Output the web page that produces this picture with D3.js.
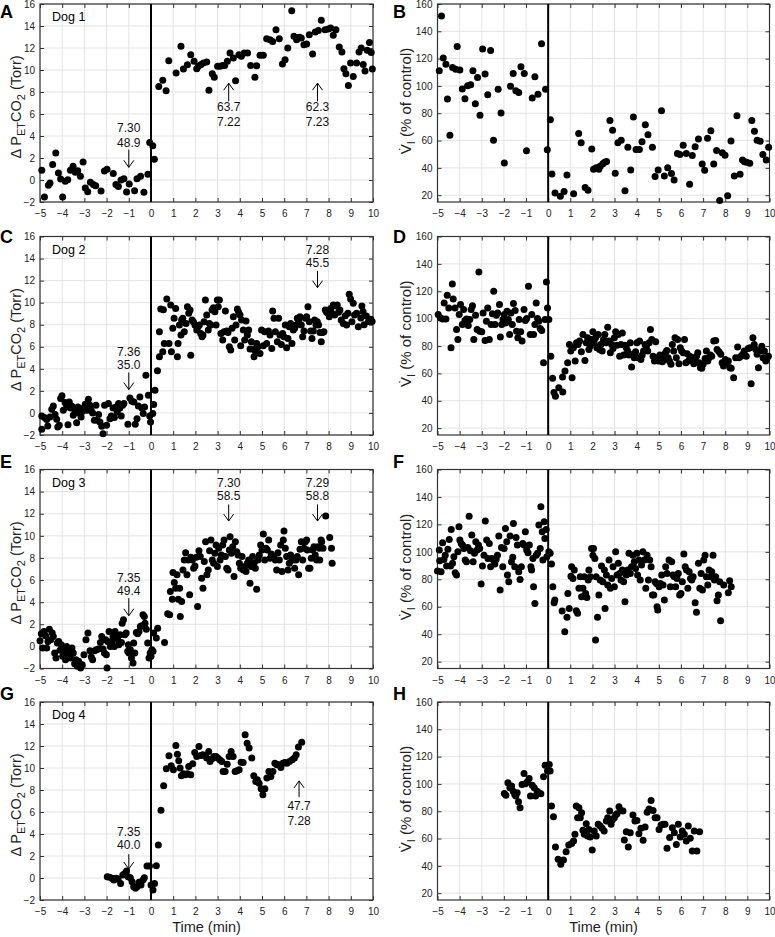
<!DOCTYPE html>
<html><head><meta charset="utf-8">
<script src="https://cdn.jsdelivr.net/npm/d3@7"></script>
<style>
body{margin:0;background:#fff;}
svg{display:block;font-family:"Liberation Sans",Arial,sans-serif;}
</style></head><body>
<svg id="c" width="775" height="937"></svg>
<script>
// ---------- DATA ----------
const xTicks = [-5,-4,-3,-2,-1,0,1,2,3,4,5,6,7,8,9,10];
const petTicks = [-2,0,2,4,6,8,10,12,14,16];
const viTicks = [20,40,60,80,100,120,140,160];

const dog1Pet = [[-4.92,0.88],[-4.8,-1.55],[-4.62,-0.48],[-4.55,-0.27],[-4.43,1.42],[-4.29,2.45],[-4.17,0.64],[-4.07,0.09],[-3.98,-1.55],[-3.86,-0.12],[-3.75,0.03],[-3.63,0.88],[-3.51,1.24],[-3.41,0.7],[-3.3,0.85],[-3.18,0.33],[-3.06,1.64],[-2.96,-0.73],[-2.85,-1.06],[-2.73,-0.21],[-2.6,-0.42],[-2.49,-0.52],[-2.25,-1.0],[-2.1,0.82],[-1.98,0.97],[-1.7,0.6],[-1.58,-0.42],[-1.47,-0.58],[-1.35,0],[-1.22,0.12],[-1.1,-1.1],[-0.98,-0.36],[-0.74,-0.97],[-0.63,0.12],[-0.47,0.33],[-0.32,-1.12],[-0.14,0.52],[-0.06,3.42],[0.08,3.12],[0.15,1.88],[0.35,8.5],[0.53,9.06],[0.68,8.12],[0.8,10.85],[1.13,9.73],[1.35,12.15],[1.46,10.09],[1.64,10.48],[1.79,11.39],[1.94,10.79],[2.06,10.12],[2.13,10.33],[2.24,10.48],[2.36,10.64],[2.51,10.73],[2.61,8.15],[2.76,9.67],[2.85,9.33],[3.0,10.33],[3.11,10.33],[3.23,10.42],[3.32,10.42],[3.44,10.79],[3.56,11.55],[3.71,11.09],[3.81,9.03],[3.96,11.39],[4.07,11.24],[4.2,11.55],[4.35,11.55],[4.49,10.42],[4.68,9.33],[4.76,10.39],[4.91,11.33],[5.06,11.33],[5.21,12.85],[5.36,12.76],[5.48,12.6],[5.63,13.67],[5.78,12.85],[5.92,10.55],[6.04,10.94],[6.16,12.0],[6.34,15.39],[6.44,13.06],[6.56,12.76],[6.68,12.97],[6.77,12.9],[6.89,12.3],[7.01,12.36],[7.13,13.21],[7.28,11.45],[7.4,13.45],[7.54,13.58],[7.67,14.52],[7.84,13.67],[7.99,13.73],[8.09,13.82],[8.21,13.15],[8.33,13.67],[8.48,12.09],[8.6,11.64],[8.69,10.12],[8.78,9.67],[8.89,8.6],[8.99,10.64],[9.11,9.42],[9.26,10.64],[9.37,11.64],[9.47,12.0],[9.56,10.5],[9.64,9.9],[9.74,11.8],[9.84,12.5],[9.92,11.6],[9.97,10.1]];

const dog1Vi = [[-4.92,111.1],[-4.82,151.3],[-4.74,120.5],[-4.62,115.9],[-4.55,90.5],[-4.44,63.9],[-4.32,113.5],[-4.18,112.3],[-4.11,128.8],[-3.99,111.6],[-3.88,97.8],[-3.76,90.7],[-3.64,100.2],[-3.5,100.9],[-3.4,111.1],[-3.29,86.9],[-3.19,106.2],[-3.08,78.6],[-2.96,127.1],[-2.85,108.7],[-2.73,93.6],[-2.6,125.9],[-2.47,60.2],[-2.26,97.5],[-2.13,80.1],[-1.98,43.5],[-1.7,99.7],[-1.58,109.1],[-1.46,96.5],[-1.33,95.1],[-1.23,114.0],[-1.08,109.1],[-0.98,52.5],[-0.72,91.2],[-0.6,106.7],[-0.46,93.9],[-0.3,130.9],[-0.12,97.5],[-0.04,53.2],[0.1,75.2],[0.17,35.5],[0.31,21.5],[0.55,19.3],[0.72,22.7],[0.85,34.8],[1.15,21.0],[1.38,65.1],[1.49,58.3],[1.67,25.6],[1.8,23.6],[1.97,53.9],[2.05,38.9],[2.17,40.1],[2.29,38.9],[2.36,41.3],[2.47,43.0],[2.55,44.2],[2.64,44.7],[2.79,74.7],[2.91,67.5],[3.03,36.0],[3.15,58.3],[3.3,60.2],[3.47,23.2],[3.6,55.1],[3.73,38.4],[3.85,77.2],[3.97,53.4],[4.12,53.4],[4.24,59.2],[4.39,71.6],[4.51,64.3],[4.71,55.1],[4.83,33.6],[4.97,38.4],[5.12,81.8],[5.25,34.1],[5.4,40.1],[5.57,35.8],[5.69,31.2],[5.84,50.5],[5.95,49.8],[6.1,56.6],[6.24,50.5],[6.39,28.0],[6.51,49.0],[6.64,55.4],[6.79,61.2],[6.96,42.8],[7.07,38.2],[7.2,61.7],[7.35,67.2],[7.48,42.8],[7.61,52.7],[7.75,16.1],[7.87,51.0],[7.99,49.3],[8.11,19.5],[8.26,59.7],[8.41,34.1],[8.53,78.2],[8.67,35.3],[8.78,45.7],[8.87,44.5],[8.97,44.2],[9.11,43.3],[9.2,74.7],[9.32,66.8],[9.44,60.2],[9.58,59.5],[9.7,49.8],[9.85,45.7],[9.96,55.1]];

const dog2Pet = [[-4.92,-1.48],[-4.92,-0.27],[-4.8,-0.42],[-4.7,-0.6],[-4.65,-1.18],[-4.55,-0.36],[-4.47,0.33],[-4.4,0.64],[-4.32,-0.15],[-4.25,-0.58],[-4.2,-1.27],[-4.13,-1.12],[-4.07,1.3],[-4.01,1.55],[-3.95,0.24],[-3.87,0.94],[-3.8,0.55],[-3.74,-1.06],[-3.68,1.0],[-3.62,0.45],[-3.56,0.61],[-3.5,-0.21],[-3.42,0.09],[-3.35,-0.88],[-3.29,0.55],[-3.23,0.0],[-3.15,-0.36],[-3.08,0.15],[-3.02,0.48],[-2.96,0.79],[-2.88,0.24],[-2.82,1.24],[-2.75,0.7],[-2.69,0.21],[-2.63,0.0],[-2.55,-0.67],[-2.48,0.7],[-2.42,-0.67],[-2.36,-0.15],[-2.3,-0.82],[-2.22,-1.21],[-2.16,-1.88],[-2.09,0.7],[-2.0,-1.12],[-1.92,0.85],[-1.85,-0.52],[-1.79,-0.27],[-1.71,0.45],[-1.65,-0.42],[-1.58,0.55],[-1.52,0.09],[-1.46,0.85],[-1.4,0.45],[-1.34,-0.27],[-1.28,0.7],[-1.22,0.85],[-1.04,-1.03],[-0.95,1.36],[-0.86,1.06],[-0.77,1.0],[-0.71,-1.03],[-0.63,-0.52],[-0.57,0.64],[-0.5,1.45],[-0.41,0.45],[-0.35,-0.06],[-0.29,0.55],[-0.23,3.42],[-0.12,1.61],[-0.06,-0.27],[-0.02,-0.82],[0.08,-0.06],[0.12,0.76],[0.18,2.06],[0.29,3.82],[0.38,5.09],[0.38,7.36],[0.44,9.42],[0.53,5.55],[0.56,9.36],[0.6,6.3],[0.71,10.33],[0.81,6.3],[0.89,9.79],[0.92,5.55],[0.98,7.67],[1.04,8.58],[1.11,9.48],[1.19,5.09],[1.22,6.3],[1.28,7.97],[1.35,7.06],[1.38,8.42],[1.43,8.58],[1.5,7.36],[1.58,8.12],[1.64,9.64],[1.7,9.03],[1.76,9.33],[1.79,5.24],[1.85,8.42],[1.91,8.27],[1.98,7.97],[2.06,7.52],[2.12,7.82],[2.18,7.97],[2.24,7.21],[2.3,6.91],[2.34,7.06],[2.39,8.27],[2.45,10.24],[2.51,8.88],[2.58,7.52],[2.63,8.12],[2.69,7.97],[2.75,9.33],[2.81,9.55],[2.88,9.18],[2.93,7.97],[2.99,10.24],[3.03,9.64],[3.08,10.24],[3.15,7.21],[3.23,6.61],[3.29,7.36],[3.35,9.24],[3.41,7.42],[3.47,7.3],[3.53,6.0],[3.59,5.7],[3.65,7.67],[3.71,8.73],[3.77,6.61],[3.83,7.97],[3.89,9.42],[3.95,9.12],[4.01,8.88],[4.04,6.09],[4.08,8.42],[4.16,7.52],[4.22,6.61],[4.28,8.33],[4.34,7.06],[4.4,7.52],[4.46,5.79],[4.52,6.45],[4.58,5.79],[4.64,5.09],[4.7,5.61],[4.76,6.3],[4.82,6.0],[4.91,5.39],[4.98,7.52],[5.06,6.09],[5.12,7.36],[5.21,6.3],[5.29,7.42],[5.36,7.06],[5.44,5.85],[5.48,9.24],[5.54,8.58],[5.6,7.36],[5.69,6.45],[5.75,8.58],[5.81,7.06],[5.87,6.21],[5.93,7.21],[5.99,6.91],[6.05,7.97],[6.11,5.91],[6.17,6.76],[6.23,7.82],[6.29,8.12],[6.35,6.3],[6.41,7.52],[6.47,7.67],[6.53,7.97],[6.59,8.58],[6.65,8.42],[6.71,8.73],[6.77,7.97],[6.83,6.91],[6.89,7.42],[6.95,8.58],[7.01,8.73],[7.07,9.64],[7.13,8.27],[7.19,7.42],[7.25,6.76],[7.31,7.42],[7.37,8.42],[7.43,7.97],[7.49,8.27],[7.55,7.97],[7.61,7.3],[7.67,6.45],[7.73,7.3],[7.79,7.36],[7.85,9.33],[7.91,9.12],[7.97,9.03],[8.03,8.73],[8.09,9.48],[8.15,9.03],[8.21,9.79],[8.27,8.88],[8.33,9.7],[8.39,9.79],[8.45,9.12],[8.51,9.33],[8.57,8.42],[8.66,8.12],[8.75,8.82],[8.81,7.97],[8.87,9.03],[8.93,10.76],[8.99,10.33],[9.05,8.27],[9.11,9.94],[9.17,8.88],[9.26,9.03],[9.34,7.82],[9.45,8.6],[9.5,9.7],[9.55,9.2],[9.6,8.0],[9.7,8.8],[9.8,8.3],[9.9,8.5],[9.96,8.3]];

const dog2Vi = [[-4.97,103.0],[-4.86,100.5],[-4.77,99.8],[-4.7,111.5],[-4.62,99.8],[-4.56,117.0],[-4.49,107.8],[-4.39,78.7],[-4.33,125.3],[-4.29,114.4],[-4.21,107.8],[-4.14,92.1],[-4.08,84.8],[-4.02,103.0],[-3.96,110.3],[-3.88,95.7],[-3.82,106.6],[-3.76,98.6],[-3.69,99.8],[-3.61,95.0],[-3.54,99.3],[-3.48,106.6],[-3.42,109.5],[-3.36,84.8],[-3.28,102.5],[-3.21,92.1],[-3.13,134.0],[-3.09,90.8],[-3.0,90.4],[-2.94,104.2],[-2.85,84.0],[-2.79,98.1],[-2.73,107.8],[-2.66,84.8],[-2.58,95.7],[-2.52,103.5],[-2.46,120.0],[-2.4,95.7],[-2.34,102.5],[-2.28,104.2],[-2.2,110.3],[-2.16,86.5],[-2.1,95.7],[-2.04,99.3],[-1.98,103.0],[-1.92,96.9],[-1.86,105.4],[-1.8,99.3],[-1.74,88.4],[-1.68,104.2],[-1.62,95.7],[-1.57,111.0],[-1.49,105.9],[-1.43,90.8],[-1.37,86.0],[-1.31,99.3],[-1.24,90.4],[-1.18,83.6],[-1.09,106.6],[-1.03,98.6],[-0.97,100.1],[-0.89,123.6],[-0.81,88.4],[-0.74,103.0],[-0.66,88.4],[-0.6,95.7],[-0.54,111.5],[-0.48,100.1],[-0.42,98.1],[-0.36,92.8],[-0.29,91.3],[-0.21,67.8],[-0.14,99.3],[-0.08,126.8],[-0.03,107.8],[0.03,99.3],[0.12,72.6],[0.2,56.4],[0.26,46.0],[0.33,43.3],[0.48,49.6],[0.66,46.4],[0.65,57.4],[0.76,61.7],[0.88,67.8],[0.96,81.1],[1.02,76.3],[1.08,56.9],[1.14,78.7],[1.22,69.0],[1.28,82.3],[1.35,81.1],[1.42,83.6],[1.5,75.8],[1.57,88.4],[1.66,69.5],[1.72,82.3],[1.78,86.0],[1.84,77.5],[1.9,80.1],[1.96,84.8],[2.02,90.4],[2.08,82.3],[2.14,86.0],[2.2,78.7],[2.26,88.4],[2.32,77.5],[2.38,81.1],[2.44,76.3],[2.5,84.8],[2.56,88.4],[2.62,82.3],[2.69,93.8],[2.75,83.6],[2.81,75.1],[2.87,81.1],[2.93,78.2],[2.99,86.0],[3.05,90.4],[3.11,80.6],[3.17,88.4],[3.23,72.6],[3.29,81.1],[3.35,89.6],[3.41,73.4],[3.47,80.6],[3.53,78.7],[3.59,76.3],[3.65,73.4],[3.71,82.3],[3.77,64.6],[3.83,73.9],[3.89,71.4],[3.95,75.8],[4.01,82.3],[4.07,71.4],[4.13,83.6],[4.19,70.2],[4.25,73.4],[4.31,76.3],[4.38,81.1],[4.44,79.9],[4.5,76.3],[4.56,82.3],[4.62,92.1],[4.68,84.8],[4.74,72.6],[4.8,69.0],[4.86,83.1],[4.92,71.4],[4.98,69.0],[5.05,73.4],[5.1,71.4],[5.16,68.5],[5.22,70.2],[5.3,75.1],[5.36,76.8],[5.42,71.4],[5.48,69.0],[5.55,66.6],[5.61,81.1],[5.67,76.3],[5.73,86.0],[5.79,71.4],[5.85,84.8],[5.91,67.1],[5.97,78.7],[6.03,76.3],[6.1,75.1],[6.16,84.8],[6.22,67.8],[6.28,74.3],[6.34,69.0],[6.4,72.6],[6.46,70.2],[6.52,71.4],[6.58,67.1],[6.64,70.2],[6.7,72.6],[6.76,75.1],[6.82,67.8],[6.88,64.2],[6.94,63.7],[7.0,66.6],[7.09,70.9],[7.15,76.3],[7.21,69.0],[7.27,71.4],[7.33,73.4],[7.39,72.6],[7.48,83.6],[7.57,84.1],[7.63,77.5],[7.72,75.8],[7.8,73.9],[7.86,67.8],[7.92,65.4],[8.0,70.2],[8.07,67.8],[8.14,69.0],[8.21,64.2],[8.27,63.7],[8.38,56.9],[8.47,71.4],[8.56,79.2],[8.62,71.4],[8.71,72.6],[8.79,73.9],[8.86,76.3],[8.95,72.6],[9.04,78.2],[9.12,78.7],[9.17,52.5],[9.25,86.0],[9.31,81.1],[9.38,77.5],[9.44,73.9],[9.5,64.2],[9.56,76.3],[9.65,79.9],[9.71,71.4],[9.77,76.3],[9.83,69.0],[9.89,71.4],[9.95,72.6]];

const dog3Pet = [[-5.0,0.51],[-4.94,1.14],[-4.88,-0.15],[-4.82,1.35],[-4.75,0.96],[-4.7,-0.15],[-4.64,0.45],[-4.58,1.56],[-4.52,0.6],[-4.45,1.2],[-4.4,0.9],[-4.34,-0.6],[-4.28,-1.05],[-4.22,0.3],[-4.16,0.45],[-4.1,-0.36],[-4.04,0.15],[-3.98,-0.9],[-3.92,-0.45],[-3.85,-1.2],[-3.8,0.0],[-3.74,-0.75],[-3.68,-0.3],[-3.62,-1.05],[-3.56,-0.15],[-3.5,-0.6],[-3.44,-1.56],[-3.38,-1.2],[-3.32,-1.8],[-3.26,-1.35],[-3.17,-1.95],[-3.1,-1.65],[-3.02,-0.75],[-2.93,0.6],[-2.84,1.2],[-2.75,-0.39],[-2.69,-0.96],[-2.63,-1.2],[-2.54,-0.39],[-2.46,-0.3],[-2.37,-0.24],[-2.28,0.36],[-2.22,0.9],[-2.16,-0.24],[-2.1,-0.6],[-2.04,0.6],[-2.01,-0.75],[-1.98,-1.95],[-1.95,0.45],[-1.89,1.35],[-1.83,0.0],[-1.77,0.45],[-1.71,0.9],[-1.65,0.0],[-1.62,1.35],[-1.57,0.84],[-1.5,0.6],[-1.45,0.15],[-1.39,1.05],[-1.33,0.36],[-1.3,2.1],[-1.24,2.4],[-1.18,1.05],[-1.12,1.2],[-1.05,-0.45],[-1.02,0.15],[-0.99,-0.6],[-0.93,-0.3],[-0.88,-1.05],[-0.81,-1.5],[-0.78,0.3],[-0.73,-0.6],[-0.66,1.26],[-0.6,1.14],[-0.54,1.35],[-0.48,1.8],[-0.42,1.86],[-0.36,2.86],[-0.3,2.7],[-0.27,2.1],[-0.21,1.56],[-0.15,0.3],[-0.09,-1.05],[-0.04,-0.6],[0.0,-0.9],[0.04,-0.3],[0.09,-0.45],[0.12,1.2],[0.24,0.75],[0.3,1.65],[0.61,0.36],[0.75,2.95],[0.84,2.86],[0.87,4.96],[0.96,4.27],[0.99,6.68],[1.05,5.77],[1.11,5.26],[1.17,6.47],[1.23,4.27],[1.29,5.26],[1.32,2.71],[1.38,4.06],[1.44,6.92],[1.5,7.82],[1.56,8.48],[1.62,6.47],[1.68,7.82],[1.74,4.66],[1.8,8.06],[1.86,7.82],[1.92,7.07],[1.98,7.28],[2.04,8.06],[2.1,3.61],[2.16,8.66],[2.22,8.12],[2.28,6.17],[2.34,5.26],[2.4,7.67],[2.46,9.47],[2.52,6.47],[2.58,6.92],[2.64,8.66],[2.7,9.62],[2.76,7.82],[2.82,7.52],[2.88,8.42],[2.93,9.17],[2.99,7.22],[3.05,8.87],[3.11,7.82],[3.17,8.27],[3.23,9.17],[3.29,9.62],[3.35,8.12],[3.41,7.07],[3.47,6.92],[3.53,8.72],[3.56,9.92],[3.62,8.42],[3.68,9.02],[3.74,6.32],[3.8,9.47],[3.86,8.57],[3.92,8.27],[3.98,7.52],[4.04,7.07],[4.1,8.12],[4.16,6.92],[4.22,7.22],[4.28,6.77],[4.34,7.52],[4.4,7.82],[4.46,5.71],[4.52,7.22],[4.58,8.12],[4.64,7.52],[4.7,7.07],[4.76,5.17],[4.82,7.82],[4.88,8.27],[4.94,9.17],[5.0,8.72],[5.06,10.17],[5.12,7.82],[5.18,8.87],[5.24,8.72],[5.3,9.62],[5.36,7.97],[5.42,8.36],[5.48,8.12],[5.54,8.12],[5.6,7.82],[5.66,6.92],[5.72,8.48],[5.78,7.82],[5.84,9.17],[5.9,6.77],[5.96,9.62],[5.99,10.44],[6.05,8.87],[6.11,8.12],[6.17,6.92],[6.23,7.52],[6.29,8.27],[6.35,7.97],[6.41,7.82],[6.47,7.07],[6.53,7.82],[6.59,8.12],[6.65,6.47],[6.71,8.78],[6.77,9.47],[6.83,7.82],[6.89,8.87],[6.95,9.47],[7.01,9.62],[7.04,8.72],[7.1,7.07],[7.16,7.07],[7.22,7.97],[7.28,8.72],[7.34,9.02],[7.4,8.27],[7.46,7.82],[7.52,9.02],[7.58,8.87],[7.6,7.82],[7.66,9.62],[7.69,9.47],[7.75,8.87],[7.87,11.79],[8.05,9.86],[8.13,8.87],[8.16,7.52]];

const dog3Vi = [[-5.0,86.0],[-4.92,101.3],[-4.9,93.5],[-4.84,85.5],[-4.77,106.6],[-4.71,94.5],[-4.65,97.6],[-4.59,89.6],[-4.53,101.8],[-4.47,109.0],[-4.41,89.6],[-4.38,116.3],[-4.32,91.6],[-4.26,96.4],[-4.2,84.8],[-4.14,83.1],[-4.08,100.1],[-4.03,118.3],[-3.99,108.6],[-3.93,106.1],[-3.87,104.9],[-3.81,102.5],[-3.75,94.0],[-3.69,92.8],[-3.63,103.2],[-3.57,126.0],[-3.51,100.8],[-3.45,112.2],[-3.39,92.8],[-3.33,98.9],[-3.27,107.3],[-3.21,101.3],[-3.15,104.9],[-3.09,102.5],[-3.03,76.5],[-2.97,89.6],[-2.9,97.6],[-2.84,122.4],[-2.78,108.6],[-2.72,95.2],[-2.66,106.1],[-2.6,89.1],[-2.54,95.2],[-2.47,94.0],[-2.41,91.1],[-2.35,94.5],[-2.29,97.6],[-2.23,111.5],[-2.17,72.2],[-2.11,103.2],[-2.05,89.1],[-1.99,102.5],[-1.93,117.1],[-1.87,107.3],[-1.84,83.1],[-1.78,78.2],[-1.72,111.5],[-1.66,92.8],[-1.6,96.0],[-1.57,120.7],[-1.51,89.1],[-1.45,110.5],[-1.39,104.9],[-1.33,85.5],[-1.27,79.9],[-1.21,89.1],[-1.15,106.1],[-1.09,104.9],[-1.03,114.6],[-0.97,101.3],[-0.91,99.3],[-0.85,104.9],[-0.78,89.1],[-0.75,86.7],[-0.69,95.2],[-0.66,74.6],[-0.6,62.4],[-0.54,97.6],[-0.48,98.9],[-0.42,119.5],[-0.36,102.5],[-0.33,132.8],[-0.27,114.6],[-0.24,94.0],[-0.18,121.9],[-0.15,109.8],[-0.09,116.3],[-0.06,96.4],[0.03,100.1],[0.09,98.9],[0.15,91.1],[0.21,74.6],[0.27,62.9],[0.3,64.9],[0.63,56.9],[0.75,41.8],[0.85,52.3],[0.89,69.7],[0.95,58.8],[1.03,82.3],[1.06,89.1],[1.12,80.6],[1.18,86.7],[1.27,57.1],[1.33,55.2],[1.39,73.4],[1.45,81.9],[1.51,67.3],[1.57,73.4],[1.63,81.9],[1.69,69.7],[1.75,66.8],[1.81,79.4],[1.84,86.7],[1.9,81.9],[1.96,102.5],[2.02,97.6],[2.05,102.5],[2.11,95.2],[2.14,35.8],[2.17,81.9],[2.23,52.3],[2.29,68.5],[2.35,79.4],[2.41,89.6],[2.47,78.2],[2.54,86.7],[2.57,58.8],[2.63,83.1],[2.69,75.8],[2.75,94.0],[2.81,73.4],[2.87,80.6],[2.93,89.1],[2.99,74.6],[3.05,100.1],[3.11,83.1],[3.17,91.6],[3.23,84.3],[3.29,79.4],[3.35,86.7],[3.41,78.2],[3.47,63.7],[3.53,83.1],[3.59,86.7],[3.65,98.9],[3.71,84.3],[3.77,89.1],[3.83,97.6],[3.89,92.8],[3.95,87.9],[4.01,98.9],[4.04,83.1],[4.1,94.0],[4.16,79.4],[4.22,90.4],[4.28,100.1],[4.34,94.0],[4.41,73.4],[4.47,97.6],[4.53,79.4],[4.59,94.0],[4.65,89.1],[4.71,68.5],[4.77,68.5],[4.83,78.2],[4.89,77.0],[4.92,60.0],[4.95,57.6],[5.01,74.6],[5.07,77.0],[5.13,83.1],[5.19,75.8],[5.25,64.9],[5.31,89.1],[5.37,84.3],[5.46,94.0],[5.52,74.6],[5.58,92.8],[5.64,83.1],[5.7,81.9],[5.76,74.6],[5.82,80.6],[5.88,84.3],[5.94,68.5],[6.0,69.7],[6.06,78.2],[6.13,98.4],[6.19,89.1],[6.25,86.7],[6.31,73.4],[6.37,85.5],[6.43,80.6],[6.49,79.4],[6.55,81.9],[6.64,62.9],[6.7,55.9],[6.79,91.6],[6.85,73.4],[6.91,84.3],[6.97,72.2],[7.03,94.0],[7.09,97.6],[7.15,81.9],[7.21,75.8],[7.27,86.7],[7.33,81.9],[7.39,85.5],[7.45,97.6],[7.51,79.4],[7.57,81.9],[7.63,64.4],[7.69,68.5],[7.75,78.2],[7.79,49.8],[7.93,75.8],[8.14,70.2],[8.2,79.0],[8.27,74.6]];

const dog4Pet = [[-1.97,0.12],[-1.87,0.06],[-1.76,-0.03],[-1.67,-0.18],[-1.57,-0.03],[-1.48,-0.09],[-1.37,-0.49],[-1.27,0.27],[-1.18,0.42],[-1.1,0.64],[-1.03,0.12],[-0.93,0.03],[-0.85,-0.33],[-0.78,-0.79],[-0.7,-0.94],[-0.63,-0.79],[-0.54,-0.39],[-0.45,-0.64],[-0.36,-0.18],[-0.3,0.03],[-0.18,1.09],[-0.07,1.09],[0.0,-0.64],[0.09,-1.09],[0.16,-0.49],[0.24,1.12],[0.33,3.0],[0.45,6.16],[0.57,8.38],[0.69,9.93],[0.81,11.11],[0.91,10.2],[1.01,9.84],[1.12,12.05],[1.19,11.26],[1.25,10.66],[1.31,9.99],[1.37,9.29],[1.46,9.47],[1.55,9.38],[1.64,9.47],[1.7,10.14],[1.79,9.38],[1.88,10.38],[1.97,11.41],[2.06,11.05],[2.16,11.96],[2.24,11.14],[2.33,11.2],[2.42,11.14],[2.51,10.9],[2.6,11.51],[2.66,10.6],[2.75,10.84],[2.84,11.05],[2.93,11.05],[3.01,10.9],[3.1,10.75],[3.19,10.6],[3.25,9.68],[3.34,9.68],[3.43,10.35],[3.52,11.05],[3.61,11.51],[3.7,11.05],[3.79,9.68],[3.88,9.75],[3.97,9.84],[4.06,10.53],[4.15,10.5],[4.24,13.02],[4.33,12.26],[4.42,11.81],[4.54,10.9],[4.63,9.29],[4.72,8.77],[4.79,8.93],[4.87,8.62],[4.96,8.11],[5.04,7.56],[5.13,8.11],[5.22,9.08],[5.31,9.68],[5.4,9.23],[5.49,9.68],[5.58,10.44],[5.67,10.29],[5.76,10.29],[5.85,10.05],[5.94,10.44],[6.03,10.5],[6.12,10.44],[6.24,10.6],[6.36,10.75],[6.46,10.9],[6.54,11.2],[6.64,11.9],[6.79,12.33]];

const dog4Vi = [[-1.98,93.0],[-1.91,91.8],[-1.82,100.8],[-1.73,97.2],[-1.65,98.4],[-1.58,94.7],[-1.51,92.3],[-1.46,91.1],[-1.4,93.5],[-1.34,87.0],[-1.27,82.6],[-1.18,99.6],[-1.09,107.6],[-1.03,100.1],[-0.94,101.6],[-0.86,104.0],[-0.8,91.1],[-0.72,99.1],[-0.63,97.2],[-0.57,91.1],[-0.5,94.7],[-0.42,93.5],[-0.33,92.8],[-0.21,105.2],[-0.14,113.7],[-0.06,113.7],[-0.03,109.4],[0.05,114.2],[0.09,109.4],[0.15,83.8],[0.24,76.0],[0.33,53.8],[0.45,44.8],[0.57,41.2],[0.69,44.3],[0.81,50.4],[0.93,55.3],[1.06,56.3],[1.15,58.2],[1.21,63.1],[1.27,83.8],[1.33,75.3],[1.39,82.6],[1.45,75.3],[1.51,78.9],[1.57,66.0],[1.63,63.1],[1.72,70.9],[1.78,61.9],[1.84,66.7],[1.9,61.1],[1.99,51.6],[2.08,65.5],[2.17,61.9],[2.26,70.4],[2.35,69.2],[2.44,67.5],[2.53,65.5],[2.63,72.8],[2.69,75.3],[2.78,80.1],[2.84,70.4],[2.9,73.6],[2.99,75.3],[3.05,77.2],[3.11,78.2],[3.2,83.3],[3.29,80.6],[3.38,80.1],[3.44,59.0],[3.53,65.0],[3.62,53.8],[3.71,64.3],[3.83,77.2],[3.92,72.8],[4.01,73.3],[4.1,63.6],[4.19,67.5],[4.29,58.7],[4.38,68.4],[4.47,79.2],[4.56,81.6],[4.65,87.9],[4.74,80.6],[4.83,75.3],[4.92,75.3],[5.01,66.7],[5.1,69.9],[5.19,70.4],[5.28,70.4],[5.37,52.9],[5.49,60.7],[5.61,68.0],[5.7,64.3],[5.79,55.7],[5.88,70.4],[5.97,61.1],[6.06,65.5],[6.15,63.1],[6.24,58.2],[6.33,69.2],[6.42,60.2],[6.51,50.9],[6.6,65.5],[6.72,50.9],[6.84,65.0]];

// annotations: x (min), label lines with their y values, arrow tail -> head (data units)
const annA = [{x:-1, text:["7.30","48.9"], ty:[4.79,3.42], tail:2.76, head:1.15},
              {x:3.5, text:["63.7","7.22"], ty:[6.64,5.33], tail:7.15, head:8.8},
              {x:7.5, text:["62.3","7.23"], ty:[6.64,5.33], tail:7.15, head:8.8}];
const annC = [{x:-1, text:["7.36","35.0"], ty:[5.58,4.39], tail:3.67, head:2.12},
              {x:7.5, text:["7.28","45.5"], ty:[14.85,13.67], tail:12.88, head:11.36}];
const annE = [{x:-1, text:["7.35","49.4"], ty:[6.2,5.02], tail:4.36, head:2.77},
              {x:3.5, text:["7.30","58.5"], ty:[14.78,13.6], tail:12.84, head:11.34},
              {x:7.5, text:["7.29","58.8"], ty:[14.78,13.6], tail:12.84, head:11.34}];
const annG = [{x:-1, text:["7.35","40.0"], ty:[4.25,3.07], tail:2.16, head:0.82},
              {x:6.67, text:["47.7","7.28"], ty:[6.59,5.22], tail:7.35, head:8.83}];

// ---------- LAYOUT ----------
const svg = d3.select("#c");
const FONT = "Liberation Sans, Arial, sans-serif";
const colX = [[40,373],[437.5,769.5]];
const rowY = [[4,202],[236.5,435],[469.5,668.5],[702,900]];

const panels = [
  {L:"A",c:0,r:0,data:dog1Pet,kind:"pet",dog:"Dog 1",ann:annA},
  {L:"B",c:1,r:0,data:dog1Vi,kind:"vi"},
  {L:"C",c:0,r:1,data:dog2Pet,kind:"pet",dog:"Dog 2",ann:annC},
  {L:"D",c:1,r:1,data:dog2Vi,kind:"vi"},
  {L:"E",c:0,r:2,data:dog3Pet,kind:"pet",dog:"Dog 3",ann:annE},
  {L:"F",c:1,r:2,data:dog3Vi,kind:"vi"},
  {L:"G",c:0,r:3,data:dog4Pet,kind:"pet",dog:"Dog 4",ann:annG},
  {L:"H",c:1,r:3,data:dog4Vi,kind:"vi"}
];
const letterBase = [18,243,468,700];

panels.forEach(p=>{
  const [x0,x1] = colX[p.c], [y0,y1] = rowY[p.r];
  const x = d3.scaleLinear().domain([-5,10]).range([x0,x1]);
  const y = p.kind==="pet" ? d3.scaleLinear().domain([-2,16]).range([y1,y0])
                           : d3.scaleLinear().domain([15,160]).range([y1,y0]);
  const yt = p.kind==="pet" ? petTicks : viTicks;
  const g = svg.append("g");

  // grid
  g.append("g").selectAll("line").data(xTicks).join("line")
    .attr("x1",d=>x(d)).attr("x2",d=>x(d)).attr("y1",y0).attr("y2",y1)
    .attr("stroke","#e3e3e3").attr("stroke-width",1);
  g.append("g").selectAll("line").data(yt).join("line")
    .attr("x1",x0).attr("x2",x1).attr("y1",d=>y(d)).attr("y2",d=>y(d))
    .attr("stroke","#e3e3e3").attr("stroke-width",1);

  // axes with inward ticks
  const ax = (gen, tr, labels) => {
    const a = g.append("g").attr("transform",tr).call(gen);
    a.select(".domain").remove();
    a.selectAll("line").attr("stroke","#333");
    if(!labels) a.selectAll("text").remove();
    else a.selectAll("text").attr("fill","#222").style("font-size","10px").style("font-family",FONT);
    return a;
  };
  ax(d3.axisBottom(x).tickValues(xTicks).tickSizeInner(-4).tickSizeOuter(0).tickPadding(8).tickFormat(d3.format("d")), `translate(0,${y1})`, true);
  ax(d3.axisTop(x).tickValues(xTicks).tickSizeInner(-4).tickSizeOuter(0), `translate(0,${y0})`, false);
  ax(d3.axisLeft(y).tickValues(yt).tickSizeInner(-4).tickSizeOuter(0).tickPadding(5).tickFormat(d3.format("d")), `translate(${x0},0)`, true);
  ax(d3.axisRight(y).tickValues(yt).tickSizeInner(-4).tickSizeOuter(0), `translate(${x1},0)`, false);

  // frame
  g.append("rect").attr("x",x0).attr("y",y0).attr("width",x1-x0).attr("height",y1-y0)
    .attr("fill","none").attr("stroke","#333").attr("stroke-width",1.2);

  // zero line
  g.append("line").attr("x1",x(0)).attr("x2",x(0)).attr("y1",y0).attr("y2",y1)
    .attr("stroke","#000").attr("stroke-width",2);

  // points
  g.append("g").selectAll("circle").data(p.data).join("circle")
    .attr("cx",d=>x(d[0])).attr("cy",d=>y(d[1])).attr("r",3.5).attr("fill","#000");

  // panel letter
  svg.append("text").attr("x", p.c===0 ? 0 : 393).attr("y", letterBase[p.r])
    .attr("font-size","18px").attr("font-weight","bold").attr("fill","#000").text(p.L);

  const cy = (y0+y1)/2;
  if(p.kind==="pet"){
    g.append("text").attr("x",x0+12).attr("y",y0+17).attr("font-size","12.5px").attr("fill","#000").text(p.dog);
    const t = svg.append("text").attr("transform",`translate(21,${cy+4}) rotate(-90)`)
      .attr("text-anchor","middle").attr("font-size","14.5px").attr("fill","#222");
    t.append("tspan").text("\u0394 P");
    t.append("tspan").attr("font-size","11px").attr("dy",4).text("ET");
    t.append("tspan").attr("dy",-4).text("CO");
    t.append("tspan").attr("font-size","11px").attr("dy",4).text("2");
    t.append("tspan").attr("dy",-4).text(" (Torr)");
    // annotations
    p.ann.forEach(a=>{
      a.text.forEach((s,i)=>{
        g.append("text").attr("x",x(a.x)).attr("y",y(a.ty[i])).attr("dy","0.36em")
          .attr("text-anchor","middle").attr("font-size","12px").attr("fill","#111").text(s);
      });
      const hx = x(a.x), hy = y(a.head), ty = y(a.tail);
      const dir = hy>ty ? -1 : 1;
      g.append("line").attr("x1",hx).attr("x2",hx).attr("y1",ty).attr("y2",hy).attr("stroke","#000").attr("stroke-width",1);
      g.append("path").attr("d",`M${hx-5},${hy+dir*7}L${hx},${hy}L${hx+5},${hy+dir*7}`)
        .attr("fill","none").attr("stroke","#000").attr("stroke-width",1);
    });
  } else {
    const t = svg.append("text").attr("transform",`translate(411,${cy-2}) rotate(-90)`)
      .attr("text-anchor","middle").attr("font-size","15px").attr("fill","#222");
    t.append("tspan").text("V\u0307");
    t.append("tspan").attr("font-size","11px").attr("dy",4).text("I");
    t.append("tspan").attr("dy",-4).text(" (% of control)");
  }
  if(p.r===3){
    svg.append("text").attr("x",(x0+x1)/2).attr("y",932).attr("text-anchor","middle")
      .attr("font-size","14.5px").attr("fill","#222").text("Time (min)");
  }
});
</script>
</body></html>
